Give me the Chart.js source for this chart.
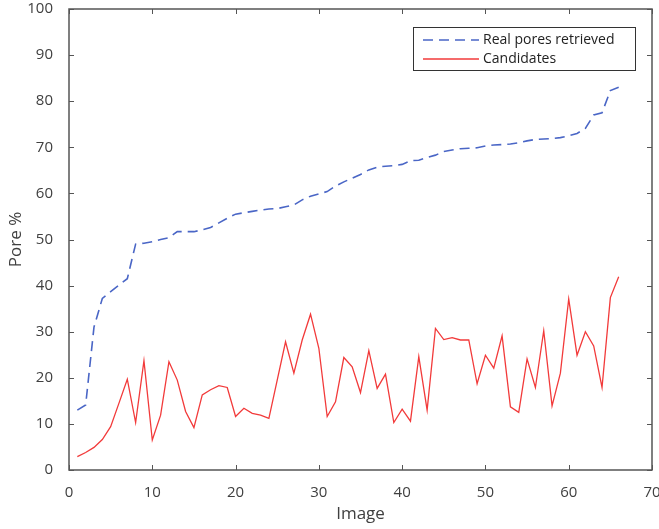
<!DOCTYPE html>
<html>
<head>
<meta charset="utf-8">
<script src="https://cdn.jsdelivr.net/npm/chart.js@4/dist/chart.umd.min.js"></script>
<style>
  html, body { margin: 0; padding: 0; background: #fff; }
  #wrap { width: 659px; height: 529px; }
</style>
</head>
<body>
<div id="wrap"><canvas id="chart"></canvas></div>
<script>
// Pore % per image
const imageNumbers = [
  1, 2, 3, 4, 5, 6, 7, 8, 9, 10, 11, 12, 13, 14, 15, 16, 17, 18, 19, 20, 21, 22,
  23, 24, 25, 26, 27, 28, 29, 30, 31, 32, 33, 34, 35, 36, 37, 38, 39, 40, 41, 42, 43, 44,
  45, 46, 47, 48, 49, 50, 51, 52, 53, 54, 55, 56, 57, 58, 59, 60, 61, 62, 63, 64, 65, 66,
];
const realPores = [
  13.0, 14.1, 31.0, 37.2, 38.7, 40.1, 41.5, 49.0, 49.2, 49.5, 50.0, 50.4, 51.7, 51.7, 51.7, 52.1,
  52.6, 53.6, 54.6, 55.5, 55.8, 56.1, 56.4, 56.6, 56.7, 57.1, 57.5, 58.6, 59.4, 59.9, 60.4, 61.6,
  62.5, 63.3, 64.1, 65.1, 65.7, 65.9, 66.0, 66.3, 67.1, 67.2, 67.8, 68.3, 69.1, 69.4, 69.7, 69.8,
  69.9, 70.3, 70.5, 70.6, 70.7, 71.0, 71.4, 71.7, 71.8, 71.9, 72.1, 72.5, 73.0, 74.1, 77.0, 77.5,
  82.3, 83.0,
];
const candidates = [
  2.9, 3.8, 4.9, 6.6, 9.4, 14.5, 19.7, 10.3, 23.7, 6.5, 11.9, 23.5, 19.5, 12.7, 9.2, 16.3,
  17.4, 18.3, 17.9, 11.6, 13.4, 12.3, 11.9, 11.2, 19.5, 27.8, 21.0, 28.2, 33.8, 26.4, 11.6, 14.8,
  24.4, 22.4, 16.8, 25.9, 17.7, 20.8, 10.3, 13.2, 10.6, 24.6, 13.0, 30.7, 28.3, 28.7, 28.2, 28.2,
  18.7, 24.9, 22.1, 29.1, 13.7, 12.5, 24.1, 17.9, 30.2, 13.9, 21.0, 37.1, 24.9, 30.0, 26.9, 17.9,
  37.4, 41.9,
];
const xTicks = [0, 10, 20, 30, 40, 50, 60, 70];
const yTicks = [0, 10, 20, 30, 40, 50, 60, 70, 80, 90, 100];
const seriesNames = ['Real pores retrieved', 'Candidates'];

const AXIS_COLOR = '#555555';
const TEXT_COLOR = '#404040';
const FONT = "'Open Sans', 'DejaVu Sans', sans-serif";

const toPoints = (ys) => ys.map((y, i) => ({ x: imageNumbers[i], y }));

// box around the plot area with inward ticks, like the original figure
const boxPlugin = {
  id: 'box',
  afterDraw(chart) {
    const { ctx, chartArea: a, scales } = chart;
    ctx.save();
    ctx.strokeStyle = AXIS_COLOR;
    ctx.lineWidth = 1.5;
    ctx.strokeRect(a.left, a.top, a.right - a.left, a.bottom - a.top);
    ctx.lineWidth = 1;
    const len = 5;
    ctx.beginPath();
    xTicks.forEach((v) => {
      const px = Math.round(scales.x.getPixelForValue(v)) + 0.5;
      ctx.moveTo(px, a.bottom); ctx.lineTo(px, a.bottom - len);
      ctx.moveTo(px, a.top); ctx.lineTo(px, a.top + len);
    });
    yTicks.forEach((v) => {
      const py = Math.round(scales.y.getPixelForValue(v)) + 0.5;
      ctx.moveTo(a.left, py); ctx.lineTo(a.left + len, py);
      ctx.moveTo(a.right, py); ctx.lineTo(a.right - len, py);
    });
    ctx.stroke();
    ctx.restore();
  },
};

// legend box in the upper right corner
const legendBoxPlugin = {
  id: 'legendBox',
  afterDraw(chart) {
    const { ctx } = chart;
    const x0 = 413, y0 = 27, w = 222, h = 43;
    ctx.save();
    ctx.fillStyle = '#fff';
    ctx.fillRect(x0, y0, w, h);
    ctx.strokeStyle = '#333';
    ctx.lineWidth = 1;
    ctx.strokeRect(x0 + 0.5, y0 + 0.5, w, h);
    ctx.font = `14px ${FONT}`;
    ctx.textBaseline = 'middle';
    ctx.fillStyle = '#222';
    chart.data.datasets.forEach((ds, i) => {
      const cy = y0 + 13 + i * 19;
      ctx.strokeStyle = ds.borderColor;
      ctx.lineWidth = ds.borderWidth;
      ctx.setLineDash(ds.borderDash || []);
      ctx.beginPath();
      ctx.moveTo(x0 + 10, cy);
      ctx.lineTo(x0 + 66, cy);
      ctx.stroke();
      ctx.setLineDash([]);
      ctx.fillText(ds.label, x0 + 70, cy);
    });
    ctx.restore();
  },
};

new Chart(document.getElementById('chart'), {
  type: 'line',
  data: {
    datasets: [
      {
        label: seriesNames[0],
        data: toPoints(realPores),
        borderColor: '#4a66c6',
        borderWidth: 1.6,
        borderDash: [10, 6],
        pointRadius: 0,
        tension: 0,
      },
      {
        label: seriesNames[1],
        data: toPoints(candidates),
        borderColor: '#f23a3a',
        borderWidth: 1.3,
        pointRadius: 0,
        tension: 0,
      },
    ],
  },
  options: {
    responsive: true,
    maintainAspectRatio: false,
    animation: false,
    layout: { padding: { top: 9, right: 7, left: 0, bottom: 0 } },
    plugins: { legend: { display: false }, tooltip: { enabled: false } },
    scales: {
      x: {
        type: 'linear',
        min: 0,
        max: 70,
        afterFit: (s) => { s.height = 59; s.paddingLeft = 0; s.paddingRight = 0; },
        afterBuildTicks: (s) => { s.ticks = xTicks.map((v) => ({ value: v })); },
        grid: { display: false },
        border: { display: false },
        ticks: { color: TEXT_COLOR, font: { family: FONT, size: 15 }, padding: 6, maxRotation: 0 },
        title: { display: true, text: 'Image', color: TEXT_COLOR, font: { family: FONT, size: 17 }, padding: { top: 0, bottom: 5 } },
      },
      y: {
        min: 0,
        max: 100,
        afterFit: (s) => { s.width = 69; s.paddingTop = 0; s.paddingBottom = 0; },
        afterBuildTicks: (s) => { s.ticks = yTicks.map((v) => ({ value: v })); },
        grid: { display: false },
        border: { display: false },
        ticks: { color: TEXT_COLOR, font: { family: FONT, size: 15 }, padding: 8 },
        title: { display: true, text: 'Pore %', color: TEXT_COLOR, font: { family: FONT, size: 17 }, padding: { top: 6, bottom: 0 } },
      },
    },
  },
  plugins: [boxPlugin, legendBoxPlugin],
});
</script>
</body>
</html>
